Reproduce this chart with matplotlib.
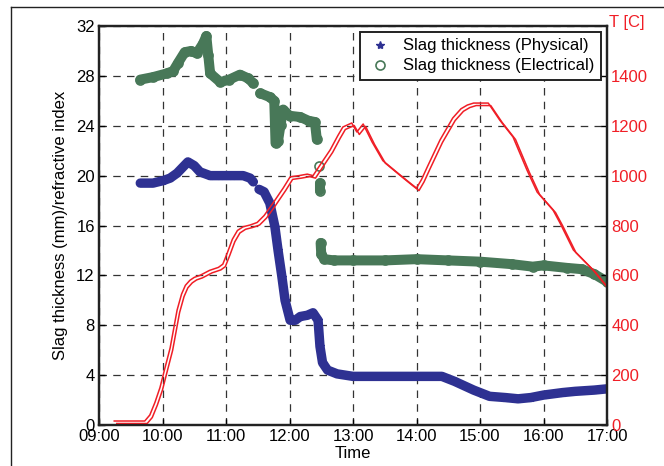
import numpy as np
import matplotlib
matplotlib.use("Agg")
import matplotlib.pyplot as plt
from matplotlib.lines import Line2D
from matplotlib.transforms import offset_copy

plt.rcParams['font.family'] = ['Liberation Sans', 'DejaVu Sans']

nan = np.nan

# time in decimal hours, thickness in mm
phys_time = [9.65, 9.85, 10.01, 10.12, 10.23, 10.40, 10.50, 10.59, 10.75, 10.91, 11.10, 11.27, 11.38, 11.43, nan,
             11.52, 11.60, 11.69, 11.77, 11.82, 11.88, 11.93, 12.01, 12.09, 12.17, 12.28, 12.37, 12.45, 12.48, 12.52,
             12.60, 12.75, 13.00, 13.50, 14.00, 14.40, 14.60, 14.90, 15.15, 15.40, 15.60, 15.80, 16.00, 16.30,
             16.50, 16.80, 17.00]
phys_val = [19.4, 19.4, 19.6, 19.8, 20.2, 21.1, 20.8, 20.3, 20.0, 20.0, 20.0, 20.0, 19.8, 19.5, nan,
            18.9, 18.7, 17.8, 15.9, 14.0, 11.9, 10.0, 8.4, 8.4, 8.7, 8.8, 9.0, 8.4, 6.3, 5.0,
            4.4, 4.1, 3.9, 3.9, 3.9, 3.9, 3.5, 2.8, 2.3, 2.2, 2.1, 2.2, 2.4, 2.6,
            2.7, 2.8, 2.9]

elec_time = [9.65, 9.85, 10.07, 10.17, 10.24, 10.35, 10.45, 10.54, 10.64, 10.69, 10.72, 10.75, 10.91, 11.05,
             11.22, 11.35, 11.43, nan,
             11.54, 11.69, 11.76, 11.78, 11.82, 11.86, 11.90, 12.00, 12.17, 12.30, 12.40, 12.43, nan,
             12.47, nan,
             12.48, 12.48, nan,
             12.49, 12.50, 12.55, 12.70, 13.00, 13.50, 14.00, 14.50, 15.00, 15.50, 15.83, 16.00, 16.37, 16.60,
             16.80, 17.00]
elec_val = [27.7, 27.9, 28.2, 28.4, 29.0, 29.9, 30.0, 29.8, 30.6, 31.2, 29.7, 28.2, 27.5, 27.7,
            28.1, 27.8, 27.4, nan,
            26.6, 26.3, 26.0, 22.6, 22.8, 24.1, 25.3, 24.8, 24.7, 24.4, 24.3, 22.9, nan,
            20.8, nan,
            19.4, 18.8, nan,
            14.6, 13.7, 13.3, 13.2, 13.2, 13.2, 13.3, 13.2, 13.1, 12.9, 12.7, 12.8, 12.6, 12.5,
            12.1, 11.5]

# temperature in C (right axis)
temp_time = [9.24, 9.72, 9.80, 9.88, 9.96, 10.04, 10.12, 10.23, 10.30, 10.36, 10.43, 10.50, 10.59, 10.74,
             10.88, 10.95, 11.02, 11.10, 11.18, 11.27, 11.38, 11.49, 11.60, 11.74, 11.90, 12.01, 12.15, 12.28,
             12.37, 12.50, 12.64, 12.76, 12.84, 12.98, 13.06, 13.16, 13.30, 13.47, 13.74, 13.90, 14.00, 14.08,
             14.17, 14.37, 14.57, 14.70, 14.80, 14.90, 15.13, 15.31, 15.52, 15.74, 15.90, 16.15, 16.26, 16.47,
             16.78, 17.00]
temp_val = [16, 16, 40, 90, 150, 230, 309, 461, 525, 560, 580, 592, 600, 620,
            632, 645, 690, 745, 780, 795, 802, 812, 840, 890, 950, 995, 1000, 1006,
            1000, 1050, 1103, 1160, 1195, 1211, 1175, 1207, 1135, 1060, 1003, 970, 950, 985,
            1035, 1143, 1231, 1268, 1283, 1291, 1291, 1223, 1155, 1022, 934, 862, 810, 702,
            622, 553]

hour_ticks = [9, 10, 11, 12, 13, 14, 15, 16, 17]
hour_labels = ['09:00', '10:00', '11:00', '12:00', '13:00', '14:00', '15:00', '16:00', '17:00']
left_ticks = [0, 4, 8, 12, 16, 20, 24, 28, 32]
right_ticks = [0, 200, 400, 600, 800, 1000, 1200, 1400]

blue = '#2e3192'
green = '#487858'
red = '#f01e26'

fig = plt.figure(figsize=(6.64, 4.66), dpi=100)
ax = fig.add_axes([99 / 664, 1 - 425 / 466, 508 / 664, 399 / 466])

# dense measurement bands
ax.plot(phys_time, phys_val, color=blue, lw=6.8, solid_capstyle='round', solid_joinstyle='round')
ax.plot(phys_time, phys_val, ls='none', marker='*', ms=6, color=blue, label='Slag thickness (Physical)')
ax.plot(elec_time, elec_val, color=green, lw=7.2, solid_capstyle='round', solid_joinstyle='round')
ax.plot(elec_time, elec_val, ls='none', marker='o', ms=6.5, mfc='none', mec=green, mew=1.2,
        label='Slag thickness (Electrical)')

ax.set_xlim(9, 17)
ax.set_ylim(0, 32)
ax.set_xticks(hour_ticks)
ax.set_xticklabels(hour_labels)
ax.set_yticks(left_ticks)
ax.grid(True, color='#333333', ls=(0, (6, 5)), lw=0.9)
ax.tick_params(direction='in', length=4, width=1, labelsize=12, pad=3)
ax.set_xlabel('Time', fontsize=12, labelpad=1)
ax.set_ylabel('Slag thickness (mm)/refractive index', fontsize=12, labelpad=6)

ax2 = ax.twinx()
ax2.plot(temp_time, temp_val, color=red, lw=1.1)
ax2.plot(temp_time, temp_val, color=red, lw=1.1,
         transform=offset_copy(ax2.transData, fig=fig, x=2.5, y=-2.5, units='dots'))
ax2.set_ylim(0, 1600)
ax2.set_yticks(right_ticks)
ax2.tick_params(direction='in', length=4, width=1, labelsize=12, colors=red, pad=3)
ax2.tick_params(axis='y', color='black')
ax2.text(1.003, 0.997, 'T [C]', transform=ax.transAxes, ha='left', va='baseline', color=red, fontsize=12)

for a in (ax, ax2):
    for s in a.spines.values():
        s.set_linewidth(1.6)
        s.set_color('#222222')

h, l = ax.get_legend_handles_labels()
leg = ax2.legend(h, l, loc='upper right', fontsize=12, fancybox=False, framealpha=1, edgecolor='#222222',
                 borderaxespad=0.35, handletextpad=0.6, borderpad=0.4, labelspacing=0.3, handlelength=1.6)
leg.get_frame().set_linewidth(1.4)

# frame lines of the cropped page
fig.add_artist(Line2D([11 / 664, 11 / 664], [0, 1 - 7 / 466], color='#222222', lw=1.0))
fig.add_artist(Line2D([11 / 664, 1], [1 - 7 / 466, 1 - 7 / 466], color='#222222', lw=1.0))

fig.savefig('out.png', dpi=100)
